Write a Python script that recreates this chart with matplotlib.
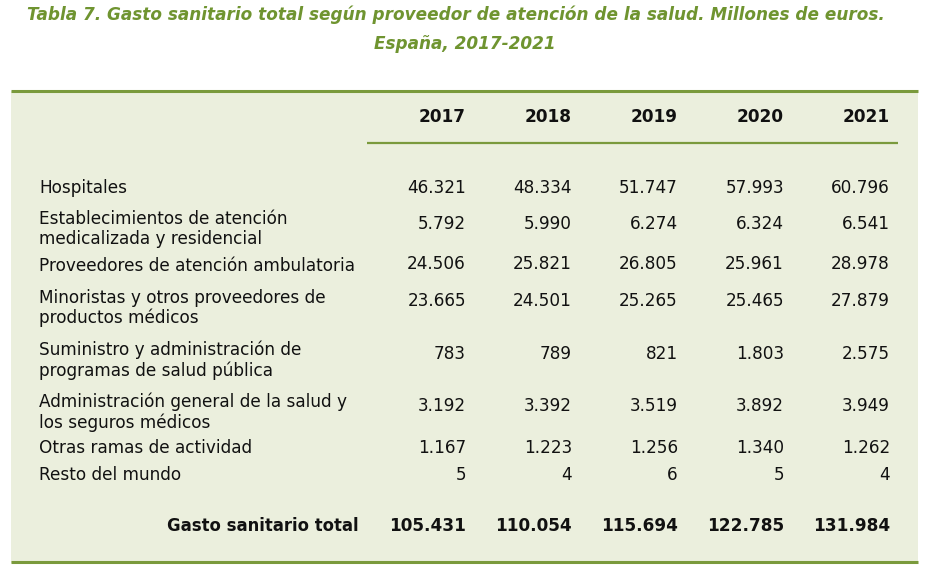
import matplotlib.pyplot as plt
from matplotlib.patches import Rectangle

# Datos de la tabla
years = ["2017", "2018", "2019", "2020", "2021"]
providers = [
    "Hospitales",
    "Establecimientos de atención\nmedicalizada y residencial",
    "Proveedores de atención ambulatoria",
    "Minoristas y otros proveedores de\nproductos médicos",
    "Suministro y administración de\nprogramas de salud pública",
    "Administración general de la salud y\nlos seguros médicos",
    "Otras ramas de actividad",
    "Resto del mundo",
]
hospitales = ["46.321", "48.334", "51.747", "57.993", "60.796"]
establecimientos = ["5.792", "5.990", "6.274", "6.324", "6.541"]
ambulatoria = ["24.506", "25.821", "26.805", "25.961", "28.978"]
minoristas = ["23.665", "24.501", "25.265", "25.465", "27.879"]
suministro = ["783", "789", "821", "1.803", "2.575"]
administracion = ["3.192", "3.392", "3.519", "3.892", "3.949"]
otras = ["1.167", "1.223", "1.256", "1.340", "1.262"]
resto = ["5", "4", "6", "5", "4"]
total_label = "Gasto sanitario total"
total = ["105.431", "110.054", "115.694", "122.785", "131.984"]

rows = [hospitales, establecimientos, ambulatoria, minoristas,
        suministro, administracion, otras, resto]

green = "#7a9a3c"
title_color = "#6f9430"
bg = "#ebefdd"
txt = "#111111"

fig = plt.figure(figsize=(9.33, 5.71), dpi=100)
ax = fig.add_axes([0, 0, 1, 1])
ax.set_xlim(0, 933)
ax.set_ylim(571, 0)
ax.axis("off")

# Título
ax.text(456, 15, "Tabla 7. Gasto sanitario total según proveedor de atención de la salud. Millones de euros.",
        ha="center", va="center", fontsize=12.2, fontweight="bold", fontstyle="italic", color=title_color)
ax.text(465, 44, "España, 2017-2021", ha="center", va="center", fontsize=12.2,
        fontweight="bold", fontstyle="italic", color=title_color)

# Fondo y líneas
ax.add_patch(Rectangle((11, 91), 907, 472, facecolor=bg, edgecolor="none"))
ax.plot([11, 918], [91, 91], color=green, lw=2.2, solid_capstyle="butt")
ax.plot([11, 918], [562, 562], color=green, lw=2.2, solid_capstyle="butt")
ax.plot([367, 898], [143, 143], color=green, lw=1.6, solid_capstyle="butt")

col_x = [466, 572, 678, 784, 890]
fs = 12.2

for x, y in zip(col_x, years):
    ax.text(x, 117, y, ha="right", va="center", fontsize=fs, fontweight="bold", color=txt)

label_y = [188, 229, 266, 308, 360, 412, 448, 475]
value_y = [188, 224, 264, 301, 354, 406, 448, 475]
for lab, ly, vy, vals in zip(providers, label_y, value_y, rows):
    ax.text(39, ly, lab, ha="left", va="center", fontsize=fs, color=txt, linespacing=1.15)
    for x, v in zip(col_x, vals):
        ax.text(x, vy, v, ha="right", va="center", fontsize=fs, color=txt)

ax.text(359, 526, total_label, ha="right", va="center", fontsize=11.9, fontweight="bold", color=txt)
for x, v in zip(col_x, total):
    ax.text(x, 526, v, ha="right", va="center", fontsize=fs, fontweight="bold", color=txt)

fig.savefig("out.png", dpi=100)
